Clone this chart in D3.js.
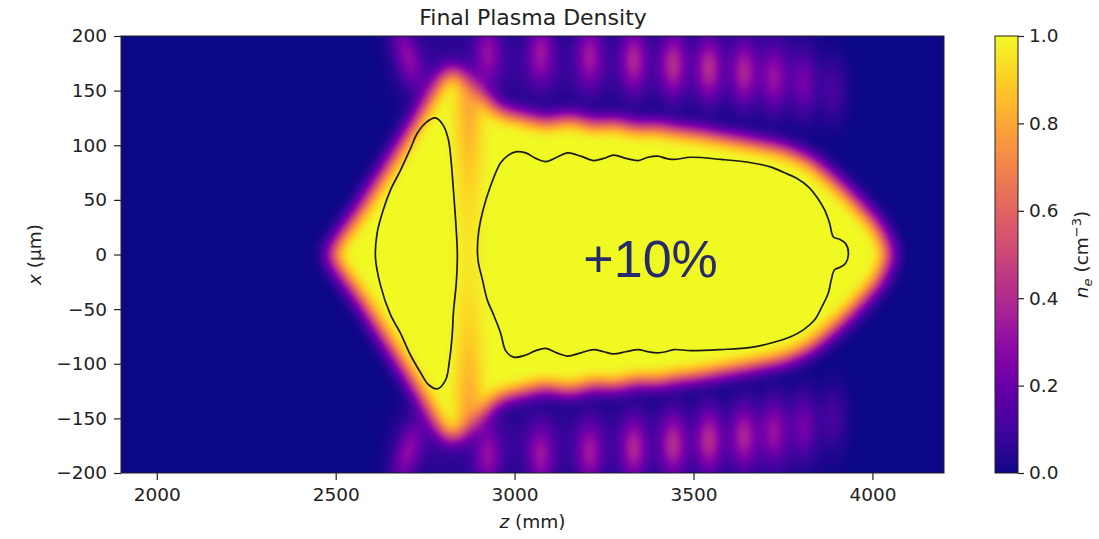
<!DOCTYPE html>
<html><head><meta charset="utf-8">
<script src="https://cdn.jsdelivr.net/npm/d3@7"></script>
<style>body{margin:0;background:#fff;} svg{display:block;}</style>
</head><body>
<svg id="chart" width="1099" height="539"></svg>
<script>
// ---------------- data ----------------
const zDomain = [1900, 4200];              // z (mm)
const xDomain = [-200, 200];               // x (µm)
const zTicks = [2000, 2500, 3000, 3500, 4000];
const xTicks = [-200, -150, -100, -50, 0, 50, 100, 150, 200];
const cbTicks = [0.0, 0.2, 0.4, 0.6, 0.8, 1.0];

// outer edge (n_e = 0.5) of the saturated column: half-width (µm) vs z (mm)
const edgeZ = [2480, 2520, 2569, 2625, 2681, 2737, 2784, 2812, 2843, 2877, 2919, 2961, 3003, 3045, 3087, 3148, 3190, 3221, 3277, 3345, 3400, 3445, 3493, 3577, 3661, 3753, 3829, 3905, 3969, 4022, 4052];
const edgeX = [0, 20, 42, 71, 100, 130, 157, 169, 169, 160, 143, 131, 128, 125, 121, 126, 123, 119, 122, 116, 118, 114, 113, 108, 103, 97, 86, 65, 44, 24, 0];

// density dip between the two channels
const dipZ = [2872];
const dipDepth = [0.04, 0.18];             // at axis, at edges

// side fringes (mirror symmetric in x)
const fringeZ = [2700, 2925, 3073, 3210, 3333, 3443, 3543, 3641, 3725, 3809, 3890];
const fringeX = [182, 185, 185, 182, 178, 174, 170, 166, 161, 156, 150];
const fringeA = [0.24, 0.24, 0.26, 0.27, 0.31, 0.33, 0.33, 0.30, 0.25, 0.19, 0.11];
const fringeTilt = [-0.8, 0, 0, 0, 0, 0, 0, 0, 0, 0, 0];
const fringeBand = [0.07];

// +10% contours  [z (mm), x (µm)]
const contourLeft = [[2779,125],[2801,118],[2815,105],[2823,84],[2829,59],[2837,22],[2840,0],[2837,-26],[2829,-53],[2826,-72],[2818,-97],[2807,-115],[2784,-123],[2759,-119],[2737,-108],[2709,-92],[2681,-72],[2653,-55],[2625,-28],[2611,-2],[2616,20],[2633,41],[2653,59],[2681,77],[2709,97],[2728,111],[2753,121]];
const contourMain = [[2896,4],[2900,22],[2912,41],[2932,62],[2961,84],[2983,91],[3003,94],[3031,93],[3059,88],[3087,85],[3118,89],[3148,93],[3185,90],[3221,86],[3249,88],[3277,91],[3311,88],[3345,86],[3373,89],[3400,90],[3423,88],[3445,87],[3493,89],[3577,87],[3661,84],[3717,80],[3753,75],[3787,70],[3821,62],[3846,52],[3866,41],[3880,29],[3891,16],[3908,14],[3925,10],[3933,1],[3925,-8],[3908,-12],[3894,-14],[3885,-23],[3877,-35],[3857,-49],[3838,-60],[3807,-69],[3773,-75],[3717,-81],[3661,-85],[3577,-87],[3493,-88],[3445,-87],[3423,-89],[3400,-90],[3373,-89],[3345,-87],[3311,-89],[3277,-91],[3249,-89],[3221,-87],[3185,-90],[3148,-93],[3118,-90],[3087,-86],[3059,-88],[3031,-92],[2997,-94],[2975,-88],[2961,-72],[2941,-55],[2924,-42],[2910,-23],[2899,-8]];

const annotation = "+10%";

// ---------------- layout ----------------
const L = 121, R = 944, T = 36, B = 473;
const zs = d3.scaleLinear(zDomain, [L, R]);
const xs = d3.scaleLinear(xDomain, [B, T]);
const cs = d3.scaleLinear([0, 1], [B, T]);
const font = "'DejaVu Sans', Verdana, sans-serif";
const ink = "#222";

const svg = d3.select("#chart");

// ---------------- density field ----------------
const nw = Math.round(R - L), nh = Math.round(B - T);
function halfWidth(z) {
  const n = edgeZ.length;
  if (z <= edgeZ[0] || z >= edgeZ[n - 1]) return -1e9;
  const i = d3.bisectRight(edgeZ, z) - 1;
  const t = (z - edgeZ[i]) / (edgeZ[i + 1] - edgeZ[i]);
  return edgeX[i] + t * (edgeX[i + 1] - edgeX[i]);
}
const pxUm = (xDomain[1] - xDomain[0]) / nh;
const mask = new Float32Array(nw * nh);
const zCol = new Float32Array(nw), hwCol = new Float32Array(nw);
for (let i = 0; i < nw; i++) { zCol[i] = zs.invert(L + i + 0.5); hwCol[i] = halfWidth(zCol[i]); }
const xRow = new Float32Array(nh);
for (let j = 0; j < nh; j++) xRow[j] = xs.invert(T + j + 0.5);
for (let j = 0; j < nh; j++) {
  const ax = Math.abs(xRow[j]);
  for (let i = 0; i < nw; i++) {
    const v = (hwCol[i] - ax) / pxUm + 0.5;
    mask[j * nw + i] = v < 0 ? 0 : v > 1 ? 1 : v;
  }
}
function blurH(src, dst, w, h, r) {
  const n = 2 * r + 1;
  for (let j = 0; j < h; j++) {
    const o = j * w; let s = 0;
    for (let i = 0; i <= r && i < w; i++) s += src[o + i];
    for (let i = 0; i < w; i++) {
      dst[o + i] = s / n;
      const a = i + r + 1, m = i - r;
      if (a < w) s += src[o + a];
      if (m >= 0) s -= src[o + m];
    }
  }
}
function blurV(src, dst, w, h, r) {
  const n = 2 * r + 1;
  for (let i = 0; i < w; i++) {
    let s = 0;
    for (let j = 0; j <= r && j < h; j++) s += src[j * w + i];
    for (let j = 0; j < h; j++) {
      dst[j * w + i] = s / n;
      const a = j + r + 1, m = j - r;
      if (a < h) s += src[a * w + i];
      if (m >= 0) s -= src[m * w + i];
    }
  }
}
let bufA = mask, bufB = new Float32Array(nw * nh);
for (let p = 0; p < 3; p++) {
  blurH(bufA, bufB, nw, nh, 8); blurV(bufB, bufA, nw, nh, 8);
}
const blurred = bufA;

const sz = 26, sx = 20;
const canvas = document.createElement("canvas");
canvas.width = nw; canvas.height = nh;
const ctx = canvas.getContext("2d");
const img = ctx.createImageData(nw, nh);
const zStart = fringeZ[0] - 20, zEnd = fringeZ[fringeZ.length - 2];
for (let j = 0; j < nh; j++) {
  const ax = Math.abs(xRow[j]);
  for (let i = 0; i < nw; i++) {
    const z = zCol[i];
    const b = blurred[j * nw + i];
    const dd = dipDepth[0] + (dipDepth[1] - dipDepth[0]) * Math.min(1, Math.pow(ax / 130, 1.5));
    const dip = dd * Math.exp(-0.5 * Math.pow((z - dipZ[0]) / 27, 2));
    let F = 0;
    for (let k = 0; k < fringeZ.length; k++) {
      const zc = fringeZ[k] + fringeTilt[k] * (ax - fringeX[k]);
      const dz = (z - zc) / sz, dx = (ax - fringeX[k]) / sx;
      F += fringeA[k] * Math.exp(-0.5 * (dz * dz + dx * dx));
    }
    const win = 1 / (1 + Math.exp(-(z - zStart) / 25)) * 1 / (1 + Math.exp((z - zEnd) / 30));
    F += fringeBand[0] * win * Math.exp(-0.5 * Math.pow((ax - 172) / 26, 2));
    let v = b * (1 - dip) + (1 - b) * F;
    v = Math.max(0, Math.min(1, v));
    const c = d3.rgb(d3.interpolatePlasma(v));
    const o = (j * nw + i) * 4;
    img.data[o] = c.r; img.data[o + 1] = c.g; img.data[o + 2] = c.b; img.data[o + 3] = 255;
  }
}
ctx.putImageData(img, 0, 0);
svg.append("image").attr("x", L).attr("y", T).attr("width", nw).attr("height", nh)
  .attr("preserveAspectRatio", "none").attr("href", canvas.toDataURL());

// ---------------- contours ----------------
const line = d3.line().x(d => zs(d[0])).y(d => xs(d[1])).curve(d3.curveCatmullRomClosed.alpha(0.5));
svg.append("g").selectAll("path").data([contourLeft, contourMain]).join("path")
  .attr("d", line).attr("fill", "none").attr("stroke", "#1a1a1a").attr("stroke-width", 1.7);

// annotation
svg.append("text").attr("x", zs(3380)).attr("y", xs(-21)).attr("text-anchor", "middle")
  .style("font-family", "'Liberation Sans', Arial, sans-serif").style("font-size", "52px")
  .attr("fill", "#272a6c").text(annotation);

// frame
svg.append("rect").attr("x", L).attr("y", T).attr("width", R - L).attr("height", B - T)
  .attr("fill", "none").attr("stroke", ink).attr("stroke-width", 1);

// ---------------- axes ----------------
function styleAxis(g) {
  g.select(".domain").remove();
  g.selectAll(".tick line").attr("stroke", ink).attr("stroke-width", 1.2);
  g.selectAll(".tick text").attr("fill", ink).style("font-family", font).style("font-size", "18.5px");
}
svg.append("g").attr("transform", `translate(0,${B})`)
  .call(d3.axisBottom(zs).tickValues(zTicks).tickFormat(d3.format("d")).tickSize(7).tickPadding(8))
  .call(styleAxis);
svg.append("g").attr("transform", `translate(${L},0)`)
  .call(d3.axisLeft(xs).tickValues(xTicks).tickFormat(d3.format("d")).tickSize(7).tickPadding(7))
  .call(styleAxis);

// title
svg.append("text").attr("x", 533).attr("y", 25).attr("text-anchor", "middle")
  .style("font-family", font).style("font-size", "22px").attr("fill", ink).text("Final Plasma Density");

// x label
const xl = svg.append("text").attr("x", (L + R) / 2).attr("y", 528).attr("text-anchor", "middle")
  .style("font-family", font).style("font-size", "18.5px").attr("fill", ink);
xl.append("tspan").style("font-style", "italic").text("z");
xl.append("tspan").text(" (mm)");

// y label
const yl = svg.append("text").attr("transform", `translate(41,${(T + B) / 2}) rotate(-90)`)
  .attr("text-anchor", "middle").style("font-family", font).style("font-size", "18.5px").attr("fill", ink);
yl.append("tspan").style("font-style", "italic").text("x");
yl.append("tspan").text(" (μm)");

// ---------------- colorbar ----------------
const CBL = 995, CBW = 23;
const defs = svg.append("defs");
const grad = defs.append("linearGradient").attr("id", "cbgrad")
  .attr("x1", 0).attr("y1", 1).attr("x2", 0).attr("y2", 0);
grad.selectAll("stop").data(d3.range(0, 1.0001, 0.02)).join("stop")
  .attr("offset", d => d).attr("stop-color", d => d3.interpolatePlasma(d));
svg.append("rect").attr("x", CBL).attr("y", T).attr("width", CBW).attr("height", B - T)
  .attr("fill", "url(#cbgrad)").attr("stroke", ink).attr("stroke-width", 1);
svg.append("g").attr("transform", `translate(${CBL + CBW},0)`)
  .call(d3.axisRight(cs).tickValues(cbTicks).tickFormat(d3.format(".1f")).tickSize(6).tickPadding(5))
  .call(styleAxis);

const cl = svg.append("text").attr("transform", `translate(1088,${(T + B) / 2}) rotate(-90)`)
  .attr("text-anchor", "middle").style("font-family", font).style("font-size", "18.5px").attr("fill", ink);
cl.append("tspan").style("font-style", "italic").text("n");
cl.append("tspan").attr("dy", 4).style("font-size", "13px").style("font-style", "italic").text("e");
cl.append("tspan").attr("dy", -4).text(" (cm");
cl.append("tspan").attr("dy", -7).style("font-size", "13px").text("−3");
cl.append("tspan").attr("dy", 7).text(")");
</script>
</body></html>
